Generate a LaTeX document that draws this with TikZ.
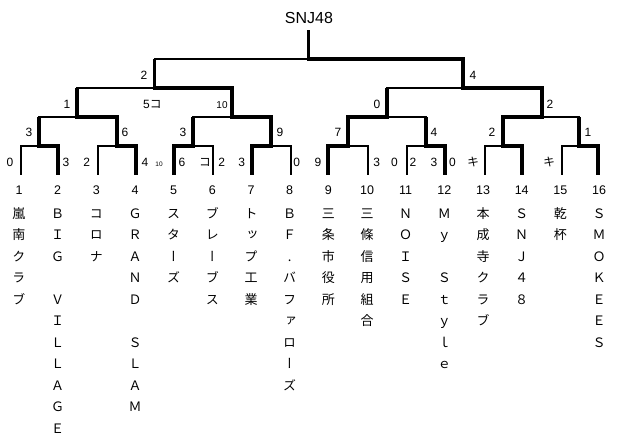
\documentclass[tikz,border=0pt]{standalone}
\usepackage{fontspec}
\setmainfont{Liberation Sans}
\newfontfamily\jp[RawFeature=+vert]{Noto Sans CJK JP}
\newcommand\drawmatch[4]{% #1 winner child, #2 loser child, #3 match point, #4 parent
  \draw[thinln] (#2) -- (#2 |- #3) -- (#3);
  \draw[thickln] (#1) -- (#1 |- #3) -- (#3) -- (#3 |- #4);
}
\begin{document}
\begin{tikzpicture}[x=1pt,y=-1pt,
  thinln/.style={line width=1.8pt},
  thickln/.style={line width=3.8pt},
  num/.style={font=\fontsize{12.5}{14}\selectfont, inner sep=0pt, anchor=base},
  score/.style={font=\fontsize{12}{14}\selectfont, inner sep=0pt, anchor=base},
  tiny10/.style={font=\fontsize{6.5}{8}\selectfont, inner sep=0pt, anchor=base},
  mid10/.style={font=\fontsize{10}{12}\selectfont, inner sep=0pt, anchor=base},
  ch/.style={font=\jp\fontsize{13}{15}\selectfont, inner sep=0pt, anchor=base},
  title/.style={font=\fontsize{16}{18}\selectfont, inner sep=0pt, anchor=base}]
\fill[white] (0,0) rectangle (620,435);
\useasboundingbox (0,0) rectangle (620,435);

% leaf points (bottom of first-round verticals)
\foreach \i/\x in {1/21,2/58.3,3/97.7,4/136,5/174,6/213,7/252,8/291,
                   9/328,10/368,11/407,12/445,13/485,14/522,15/562,16/598}
  \coordinate (b\i) at (\x,175);
% match points
\foreach \i/\x in {1/39.3,2/116.7,3/193.3,4/271,5/348,6/426,7/503,8/579}
  \coordinate (M\i) at (\x,146);
\foreach \i/\x in {1/77.3,2/231.7,3/387,4/542}
  \coordinate (Q\i) at (\x,117);
\coordinate (S1) at (154.5,88);
\coordinate (S2) at (463,88);
\coordinate (F) at (308.5,59);
\coordinate (W) at (308.5,30);

% first round
\drawmatch{b2}{b1}{M1}{Q1}
\drawmatch{b4}{b3}{M2}{Q1}
\drawmatch{b5}{b6}{M3}{Q2}
\drawmatch{b7}{b8}{M4}{Q2}
\drawmatch{b9}{b10}{M5}{Q3}
\drawmatch{b12}{b11}{M6}{Q3}
\drawmatch{b14}{b13}{M7}{Q4}
\drawmatch{b16}{b15}{M8}{Q4}
% second round
\drawmatch{M2}{M1}{Q1}{S1}
\drawmatch{M4}{M3}{Q2}{S1}
\drawmatch{M5}{M6}{Q3}{S2}
\drawmatch{M7}{M8}{Q4}{S2}
% semifinals
\drawmatch{Q2}{Q1}{S1}{F}
\drawmatch{Q4}{Q3}{S2}{F}
% final
\drawmatch{S2}{S1}{F}{W}

\node[title] (champ) at (309,23.3) {SNJ48};

% team numbers
\foreach \i in {1,...,16}
  \node[num] (n\i) at ({19+(\i-1)*38.67},194.5) {\i};

% team names (one character per row)
\foreach \i/\lst in {
  1/{嵐,南,ク,ラ,ブ},
  2/{Ｂ,Ｉ,Ｇ,{},Ｖ,Ｉ,Ｌ,Ｌ,Ａ,Ｇ,Ｅ},
  3/{コ,ロ,ナ},
  4/{Ｇ,Ｒ,Ａ,Ｎ,Ｄ,{},Ｓ,Ｌ,Ａ,Ｍ},
  5/{ス,タ,ー,ズ},
  6/{ブ,レ,ー,ブ,ス},
  7/{ト,ッ,プ,工,業},
  8/{Ｂ,Ｆ,.,バ,フ,ァ,ロ,ー,ズ},
  9/{三,条,市,役,所},
  10/{三,條,信,用,組,合},
  11/{Ｎ,Ｏ,Ｉ,Ｓ,Ｅ},
  12/{Ｍ,ｙ,{},Ｓ,ｔ,ｙ,ｌ,ｅ},
  13/{本,成,寺,ク,ラ,ブ},
  14/{Ｓ,Ｎ,Ｊ,４,８},
  15/{乾,杯},
  16/{Ｓ,Ｍ,Ｏ,Ｋ,Ｅ,Ｅ,Ｓ}}
  \foreach \c [count=\k] in \lst
    \node[ch] (t\i-\k) at ({19+(\i-1)*38.67},{218.3+(\k-1)*21.5}) {\c};

% first-round scores
\node[score] (r1a) at (10,167) {0};
\node[score] (r1b) at (66,167) {3};
\node[score] (r1c) at (86.7,167) {2};
\node[score] (r1d) at (145,167) {4};
\node[tiny10] (r1e) at (159,167) {10};
\node[score] (r1f) at (182,167) {6};
\node[score] (r1g) at (205,167) {\jp コ};
\node[score] (r1h) at (221.7,167) {2};
\node[score] (r1i) at (241.7,167) {3};
\node[score] (r1j) at (296.7,167) {0};
\node[score] (r1k) at (318,167) {9};
\node[score] (r1l) at (376.7,167) {3};
\node[score] (r1m) at (394.5,167) {0};
\node[score] (r1n) at (413,167) {2};
\node[score] (r1o) at (434,167) {3};
\node[score] (r1p) at (452.5,167) {0};
\node[score] (r1q) at (473,167) {\jp キ};
\node[score] (r1r) at (549,167) {\jp キ};
% second-round scores
\node[score] (r2a) at (29,137) {3};
\node[score] (r2b) at (125,137) {6};
\node[score] (r2c) at (183,137) {3};
\node[score] (r2d) at (280,137) {9};
\node[score] (r2e) at (338,137) {7};
\node[score] (r2f) at (434,137) {4};
\node[score] (r2g) at (492,137) {2};
\node[score] (r2h) at (588,137) {1};
% third-round scores
\node[score] (r3a) at (67,109) {1};
\node[score] (r3b) at (152.5,109) {5{\jp コ}};
\node[mid10] (r3c) at (222,109) {10};
\node[score] (r3d) at (377,109) {0};
\node[score] (r3e) at (550,109) {2};
% semifinal scores
\node[score] (r4a) at (144,80) {2};
\node[score] (r4b) at (473,80) {4};
\end{tikzpicture}
\end{document}
